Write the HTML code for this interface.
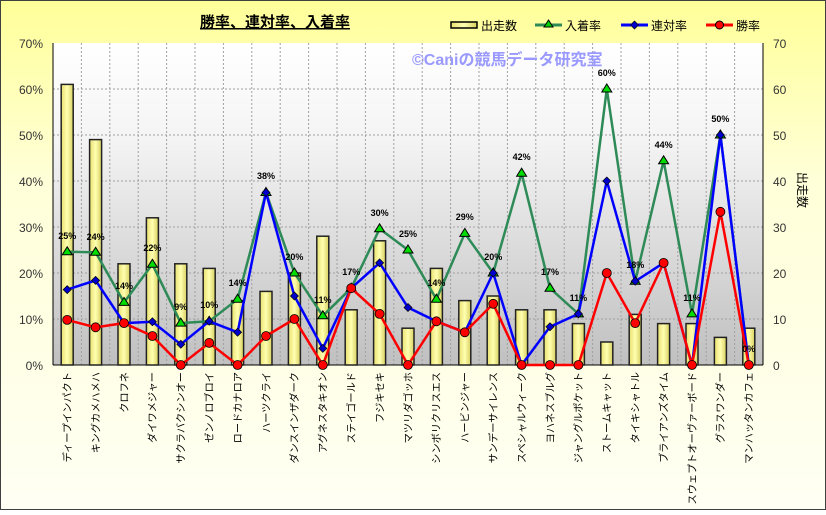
<!DOCTYPE html>
<html><head><meta charset="utf-8"><style>
body{margin:0;width:826px;height:510px;overflow:hidden;font-family:"Liberation Sans","Noto Sans CJK JP",sans-serif}
</style></head><body>
<svg width="826" height="510" xmlns="http://www.w3.org/2000/svg" font-family="Liberation Sans, Noto Sans CJK JP, sans-serif">
<defs>
<linearGradient id="bg" x1="0" y1="0" x2="0" y2="1"><stop offset="0" stop-color="#ffff99"/><stop offset="0.35" stop-color="#ffffd8"/><stop offset="1" stop-color="#fffff4"/></linearGradient>
<linearGradient id="pa" x1="0" y1="0" x2="0" y2="1"><stop offset="0" stop-color="#ffffff"/><stop offset="0.3" stop-color="#f4f4f4"/><stop offset="1" stop-color="#c0c0c0"/></linearGradient>
<linearGradient id="bar" x1="0" y1="0" x2="1" y2="0"><stop offset="0" stop-color="#e8e070"/><stop offset="0.5" stop-color="#ffffb0"/><stop offset="1" stop-color="#d8d060"/></linearGradient>
</defs>
<rect x="0.5" y="0.5" width="825" height="509" fill="url(#bg)" stroke="#404040"/>
<text x="275" y="27" font-size="15" font-weight="bold" text-anchor="middle" text-decoration="underline">勝率、連対率、入着率</text>
<!-- legend -->
<rect x="451" y="22" width="26" height="6" fill="url(#bar)" stroke="#000" stroke-width="1.5"/>
<text x="481" y="30" font-size="12">出走数</text>
<line x1="535" y1="25" x2="562" y2="25" stroke="#2e8b57" stroke-width="3"/><polygon points="548.5,20 553,27 544,27" fill="#00d000" stroke="#000"/>
<text x="565" y="30" font-size="12">入着率</text>
<line x1="621" y1="25" x2="648" y2="25" stroke="#0000ff" stroke-width="3"/><polygon points="634.5,21 638.5,25 634.5,29 630.5,25" fill="#0000cc" stroke="#000" stroke-width="0.7"/>
<text x="651" y="30" font-size="12">連対率</text>
<line x1="706" y1="25" x2="733" y2="25" stroke="#ff0000" stroke-width="3"/><circle cx="719.5" cy="25" r="4" fill="#ff0000" stroke="#000"/>
<text x="736" y="30" font-size="12">勝率</text>
<!-- plot -->
<rect x="53" y="43" width="710" height="322" fill="url(#pa)"/>
<g stroke="#a0a0a0" stroke-dasharray="2,2" stroke-width="1">
<line x1="53" y1="89" x2="763" y2="89"/><line x1="53" y1="135" x2="763" y2="135"/><line x1="53" y1="181" x2="763" y2="181"/><line x1="53" y1="227" x2="763" y2="227"/><line x1="53" y1="273" x2="763" y2="273"/><line x1="53" y1="319" x2="763" y2="319"/>
<line x1="81.4" y1="43" x2="81.4" y2="365"/><line x1="109.8" y1="43" x2="109.8" y2="365"/><line x1="138.2" y1="43" x2="138.2" y2="365"/><line x1="166.6" y1="43" x2="166.6" y2="365"/><line x1="195" y1="43" x2="195" y2="365"/><line x1="223.4" y1="43" x2="223.4" y2="365"/><line x1="251.8" y1="43" x2="251.8" y2="365"/><line x1="280.2" y1="43" x2="280.2" y2="365"/><line x1="308.6" y1="43" x2="308.6" y2="365"/><line x1="337" y1="43" x2="337" y2="365"/><line x1="365.4" y1="43" x2="365.4" y2="365"/><line x1="393.8" y1="43" x2="393.8" y2="365"/><line x1="422.2" y1="43" x2="422.2" y2="365"/><line x1="450.6" y1="43" x2="450.6" y2="365"/><line x1="479" y1="43" x2="479" y2="365"/><line x1="507.4" y1="43" x2="507.4" y2="365"/><line x1="535.8" y1="43" x2="535.8" y2="365"/><line x1="564.2" y1="43" x2="564.2" y2="365"/><line x1="592.6" y1="43" x2="592.6" y2="365"/><line x1="621" y1="43" x2="621" y2="365"/><line x1="649.4" y1="43" x2="649.4" y2="365"/><line x1="677.8" y1="43" x2="677.8" y2="365"/><line x1="706.2" y1="43" x2="706.2" y2="365"/><line x1="734.6" y1="43" x2="734.6" y2="365"/>
</g>
<text x="412" y="65" font-size="16" fill="#9999ff" font-weight="bold">©Caniの競馬データ研究室</text>
<!-- axes -->
<line x1="53" y1="43" x2="53" y2="365" stroke="#000"/>
<line x1="763" y1="43" x2="763" y2="365" stroke="#000"/>
<line x1="53" y1="365" x2="763" y2="365" stroke="#000"/>
<g font-size="12" fill="#333" text-anchor="end">
<text x="43" y="48">70%</text><text x="43" y="94">60%</text><text x="43" y="140">50%</text><text x="43" y="186">40%</text><text x="43" y="232">30%</text><text x="43" y="278">20%</text><text x="43" y="324">10%</text><text x="43" y="370">0%</text>
</g>
<g font-size="12" fill="#333">
<text x="773" y="48">70</text><text x="773" y="94">60</text><text x="773" y="140">50</text><text x="773" y="186">40</text><text x="773" y="232">30</text><text x="773" y="278">20</text><text x="773" y="324">10</text><text x="773" y="370">0</text>
</g>
<text font-size="12" transform="translate(798,190) rotate(90)" text-anchor="middle">出走数</text>
<!-- bars -->
<g fill="url(#bar)" stroke="#222" stroke-width="1.5">
<rect x="61.2" y="84.4" width="12" height="280.6"/>
<rect x="89.6" y="139.6" width="12" height="225.4"/>
<rect x="118" y="263.8" width="12" height="101.2"/>
<rect x="146.4" y="217.8" width="12" height="147.2"/>
<rect x="174.8" y="263.8" width="12" height="101.2"/>
<rect x="203.2" y="268.4" width="12" height="96.6"/>
<rect x="231.6" y="300.6" width="12" height="64.4"/>
<rect x="260" y="291.4" width="12" height="73.6"/>
<rect x="288.4" y="273" width="12" height="92"/>
<rect x="316.8" y="236.2" width="12" height="128.8"/>
<rect x="345.2" y="309.8" width="12" height="55.2"/>
<rect x="373.6" y="240.8" width="12" height="124.2"/>
<rect x="402" y="328.2" width="12" height="36.8"/>
<rect x="430.4" y="268.4" width="12" height="96.6"/>
<rect x="458.8" y="300.6" width="12" height="64.4"/>
<rect x="487.2" y="296" width="12" height="69"/>
<rect x="515.6" y="309.8" width="12" height="55.2"/>
<rect x="544" y="309.8" width="12" height="55.2"/>
<rect x="572.4" y="323.6" width="12" height="41.4"/>
<rect x="600.8" y="342" width="12" height="23"/>
<rect x="629.2" y="314.4" width="12" height="50.6"/>
<rect x="657.6" y="323.6" width="12" height="41.4"/>
<rect x="686" y="323.6" width="12" height="41.4"/>
<rect x="714.4" y="337.4" width="12" height="27.6"/>
<rect x="742.8" y="328.2" width="12" height="36.8"/>
</g>
<!-- green -->
<polyline fill="none" stroke="#2e8b57" stroke-width="2.5" points="67.2,251.8 95.6,252.3 124,302.4 152.4,264.3 180.8,323.1 209.2,321.3 237.6,299.2 266,192.5 294.4,273 322.8,315.8 351.2,288.2 379.6,228.8 408,250 436.4,299.2 464.8,233.4 493.2,273 521.6,173.2 550,288.2 578.4,313.9 606.8,89 635.2,281.3 663.6,160.8 692,313.9 720.4,135 748.8,365"/>
<g fill="#00dd00" stroke="#000" stroke-width="1">
<polygon points="67.2,246.8 72.2,254.8 62.2,254.8"/><polygon points="95.6,247.3 100.6,255.3 90.6,255.3"/><polygon points="124,297.4 129,305.4 119,305.4"/><polygon points="152.4,259.3 157.4,267.3 147.4,267.3"/><polygon points="180.8,318.1 185.8,326.1 175.8,326.1"/><polygon points="209.2,316.3 214.2,324.3 204.2,324.3"/><polygon points="237.6,294.2 242.6,302.2 232.6,302.2"/><polygon points="266,187.5 271,195.5 261,195.5"/><polygon points="294.4,268 299.4,276 289.4,276"/><polygon points="322.8,310.8 327.8,318.8 317.8,318.8"/><polygon points="351.2,283.2 356.2,291.2 346.2,291.2"/><polygon points="379.6,223.8 384.6,231.8 374.6,231.8"/><polygon points="408,245 413,253 403,253"/><polygon points="436.4,294.2 441.4,302.2 431.4,302.2"/><polygon points="464.8,228.4 469.8,236.4 459.8,236.4"/><polygon points="493.2,268 498.2,276 488.2,276"/><polygon points="521.6,168.2 526.6,176.2 516.6,176.2"/><polygon points="550,283.2 555,291.2 545,291.2"/><polygon points="578.4,308.9 583.4,316.9 573.4,316.9"/><polygon points="606.8,84 611.8,92 601.8,92"/><polygon points="635.2,276.3 640.2,284.3 630.2,284.3"/><polygon points="663.6,155.8 668.6,163.8 658.6,163.8"/><polygon points="692,308.9 697,316.9 687,316.9"/><polygon points="720.4,130 725.4,138 715.4,138"/>
</g>
<!-- blue -->
<polyline fill="none" stroke="#0000ff" stroke-width="2.5" points="67.2,289.6 95.6,280.4 124,323.1 152.4,321.8 180.8,344.3 209.2,321.3 237.6,332.3 266,192.5 294.4,296 322.8,348.4 351.2,288.2 379.6,262.9 408,307.5 436.4,321.3 464.8,332.3 493.2,273 521.6,365 550,326.8 578.4,313.9 606.8,181 635.2,281.3 663.6,262.9 692,365 720.4,135 748.8,365"/>
<g fill="#0000cc" stroke="#000" stroke-width="0.7">
<polygon points="67.2,285.6 71.2,289.6 67.2,293.6 63.2,289.6"/><polygon points="95.6,276.4 99.6,280.4 95.6,284.4 91.6,280.4"/><polygon points="124,319.1 128,323.1 124,327.1 120,323.1"/><polygon points="152.4,317.8 156.4,321.8 152.4,325.8 148.4,321.8"/><polygon points="180.8,340.3 184.8,344.3 180.8,348.3 176.8,344.3"/><polygon points="209.2,317.3 213.2,321.3 209.2,325.3 205.2,321.3"/><polygon points="237.6,328.3 241.6,332.3 237.6,336.3 233.6,332.3"/><polygon points="266,188.5 270,192.5 266,196.5 262,192.5"/><polygon points="294.4,292 298.4,296 294.4,300 290.4,296"/><polygon points="322.8,344.4 326.8,348.4 322.8,352.4 318.8,348.4"/><polygon points="351.2,284.2 355.2,288.2 351.2,292.2 347.2,288.2"/><polygon points="379.6,258.9 383.6,262.9 379.6,266.9 375.6,262.9"/><polygon points="408,303.5 412,307.5 408,311.5 404,307.5"/><polygon points="436.4,317.3 440.4,321.3 436.4,325.3 432.4,321.3"/><polygon points="464.8,328.3 468.8,332.3 464.8,336.3 460.8,332.3"/><polygon points="493.2,269 497.2,273 493.2,277 489.2,273"/><polygon points="550,322.8 554,326.8 550,330.8 546,326.8"/><polygon points="578.4,309.9 582.4,313.9 578.4,317.9 574.4,313.9"/><polygon points="606.8,177 610.8,181 606.8,185 602.8,181"/><polygon points="635.2,277.3 639.2,281.3 635.2,285.3 631.2,281.3"/><polygon points="663.6,258.9 667.6,262.9 663.6,266.9 659.6,262.9"/><polygon points="720.4,131 724.4,135 720.4,139 716.4,135"/>
</g>
<!-- red -->
<polyline fill="none" stroke="#ff0000" stroke-width="2.5" points="67.2,319.9 95.6,327.3 124,323.1 152.4,336 180.8,365 209.2,342.9 237.6,365 266,336 294.4,319 322.8,365 351.2,288.2 379.6,313.9 408,365 436.4,321.3 464.8,332.3 493.2,303.8 521.6,365 550,365 578.4,365 606.8,273 635.2,323.1 663.6,262.9 692,365 720.4,211.8 748.8,365"/>
<g fill="#ff0000" stroke="#000" stroke-width="0.8">
<circle cx="67.2" cy="319.9" r="4.5"/><circle cx="95.6" cy="327.3" r="4.5"/><circle cx="124" cy="323.1" r="4.5"/><circle cx="152.4" cy="336" r="4.5"/><circle cx="180.8" cy="365" r="4.5"/><circle cx="209.2" cy="342.9" r="4.5"/><circle cx="237.6" cy="365" r="4.5"/><circle cx="266" cy="336" r="4.5"/><circle cx="294.4" cy="319" r="4.5"/><circle cx="322.8" cy="365" r="4.5"/><circle cx="351.2" cy="288.2" r="4.5"/><circle cx="379.6" cy="313.9" r="4.5"/><circle cx="408" cy="365" r="4.5"/><circle cx="436.4" cy="321.3" r="4.5"/><circle cx="464.8" cy="332.3" r="4.5"/><circle cx="493.2" cy="303.8" r="4.5"/><circle cx="521.6" cy="365" r="4.5"/><circle cx="550" cy="365" r="4.5"/><circle cx="578.4" cy="365" r="4.5"/><circle cx="606.8" cy="273" r="4.5"/><circle cx="635.2" cy="323.1" r="4.5"/><circle cx="663.6" cy="262.9" r="4.5"/><circle cx="692" cy="365" r="4.5"/><circle cx="720.4" cy="211.8" r="4.5"/><circle cx="748.8" cy="365" r="4.5"/>
</g>
<!-- value labels -->
<g font-size="9" font-weight="bold" text-anchor="middle" fill="#000">
<text x="67.2" y="239">25%</text><text x="95.6" y="240">24%</text><text x="124" y="289">14%</text><text x="152.4" y="251">22%</text><text x="180.8" y="310">9%</text><text x="209.2" y="308">10%</text><text x="237.6" y="286">14%</text><text x="266" y="179">38%</text><text x="294.4" y="260">20%</text><text x="322.8" y="303">11%</text><text x="351.2" y="275">17%</text><text x="379.6" y="216">30%</text><text x="408" y="237">25%</text><text x="436.4" y="286">14%</text><text x="464.8" y="220">29%</text><text x="493.2" y="260">20%</text><text x="521.6" y="160">42%</text><text x="550" y="275">17%</text><text x="578.4" y="301">11%</text><text x="606.8" y="76">60%</text><text x="635.2" y="268">18%</text><text x="663.6" y="148">44%</text><text x="692" y="301">11%</text><text x="720.4" y="122">50%</text><text x="748.8" y="352">0%</text>
</g>
<!-- category labels -->
<g font-size="10.2" text-anchor="end">
<text transform="translate(71,372) rotate(-90)">ディープインパクト</text>
<text transform="translate(99.4,372) rotate(-90)">キングカメハメハ</text>
<text transform="translate(127.8,372) rotate(-90)">クロフネ</text>
<text transform="translate(156.2,372) rotate(-90)">ダイワメジャー</text>
<text transform="translate(184.6,372) rotate(-90)">サクラバクシンオー</text>
<text transform="translate(213,372) rotate(-90)">ゼンノロブロイ</text>
<text transform="translate(241.4,372) rotate(-90)">ロードカナロア</text>
<text transform="translate(269.8,372) rotate(-90)">ハーツクライ</text>
<text transform="translate(298.2,372) rotate(-90)">ダンスインザダーク</text>
<text transform="translate(326.6,372) rotate(-90)">アグネスタキオン</text>
<text transform="translate(355,372) rotate(-90)">ステイゴールド</text>
<text transform="translate(383.4,372) rotate(-90)">フジキセキ</text>
<text transform="translate(411.8,372) rotate(-90)">マツリダゴッホ</text>
<text transform="translate(440.2,372) rotate(-90)">シンボリクリスエス</text>
<text transform="translate(468.6,372) rotate(-90)">ハービンジャー</text>
<text transform="translate(497,372) rotate(-90)">サンデーサイレンス</text>
<text transform="translate(525.4,372) rotate(-90)">スペシャルウィーク</text>
<text transform="translate(553.8,372) rotate(-90)">ヨハネスブルグ</text>
<text transform="translate(582.2,372) rotate(-90)">ジャングルポケット</text>
<text transform="translate(610.6,372) rotate(-90)">ストームキャット</text>
<text transform="translate(639,372) rotate(-90)">タイキシャトル</text>
<text transform="translate(667.4,372) rotate(-90)">ブライアンズタイム</text>
<text transform="translate(695.8,372) rotate(-90)">スウェプトオーヴァーボード</text>
<text transform="translate(724.2,372) rotate(-90)">グラスワンダー</text>
<text transform="translate(752.6,372) rotate(-90)">マンハッタンカフェ</text>
</g>
</svg>
</body></html>
